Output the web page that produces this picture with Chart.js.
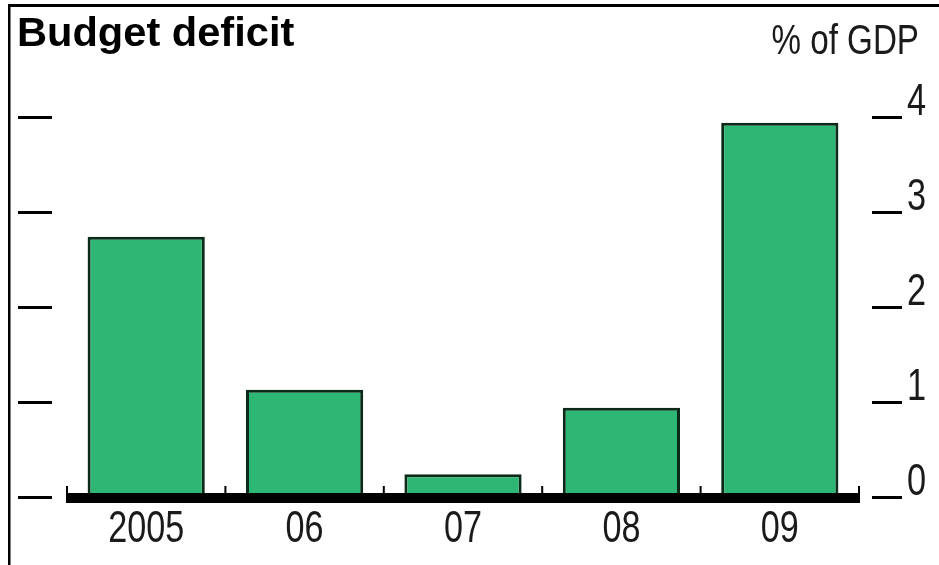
<!DOCTYPE html>
<html>
<head>
<meta charset="utf-8">
<script src="https://cdn.jsdelivr.net/npm/chart.js@4.4.0/dist/chart.umd.min.js"></script>
<style>
  html, body { margin: 0; padding: 0; background: #fff; }
  #wrap { width: 939px; height: 565px; position: relative; }
</style>
</head>
<body>
<div id="wrap"><canvas id="myChart" width="939" height="565"></canvas></div>
<script>
'use strict';

// data
let years = ['2005', '06', '07', '08', '09'];
let deficit = [2.74, 1.13, 0.24, 0.94, 3.94];
let yTicks = [0, 1, 2, 3, 4];

let chartTitle = 'Budget deficit';
let unitLabel = '% of GDP';
let baseFont = '"Liberation Sans", Arial, sans-serif';

// draw text squeezed sideways (the original uses a condensed face)
function narrowText(ctx, text, x, y, size, squeeze, align) {
  ctx.save();
  ctx.font = size + 'px ' + baseFont;
  ctx.textAlign = align;
  ctx.textBaseline = 'alphabetic';
  ctx.translate(x, y);
  ctx.scale(squeeze, 1);
  ctx.fillText(text, 0, 0);
  ctx.restore();
}

// extra bits: frame, title, side ticks, thick axis line, labels
let decorPlugin = {
  id: 'decor',
  afterDatasetsDraw(chart) {
    let ctx = chart.ctx;
    let area = chart.chartArea;
    let x = chart.scales.x;
    let y = chart.scales.y;
    ctx.save();

    // frame (left + top)
    ctx.fillStyle = '#000';
    ctx.fillRect(8, 4, 931, 3);
    ctx.fillRect(8, 4, 2.5, 561);

    // title
    ctx.save();
    ctx.font = 'bold 40px ' + baseFont;
    ctx.textAlign = 'left';
    ctx.textBaseline = 'alphabetic';
    ctx.translate(17, 46);
    ctx.scale(1.04, 1);
    ctx.fillText(chartTitle, 0, 0);
    ctx.restore();

    ctx.fillStyle = '#1a1a1a';
    narrowText(ctx, unitLabel, 919, 54, 42, 0.79, 'right');

    // y ticks both sides, labels on the right
    yTicks.forEach(function (v) {
      let py = Math.round(y.getPixelForValue(v));
      ctx.fillStyle = '#000';
      ctx.fillRect(18, py - 1, 34, 3);
      ctx.fillRect(872, py - 1, 30, 3);
      ctx.fillStyle = '#1a1a1a';
      narrowText(ctx, String(v), 907, py - 2, 44, 0.78, 'left');
    });

    // thick baseline
    let base = y.getPixelForValue(0);
    ctx.fillStyle = '#000';
    ctx.fillRect(area.left - 1, base - 4, area.right - area.left + 2, 10);

    // small category separators
    let n = years.length;
    let step = (area.right - area.left) / n;
    for (let i = 0; i <= n; i++) {
      let px = area.left + step * i;
      ctx.fillRect(px - 1, base - 11, 2, 8);
    }

    // category labels
    ctx.fillStyle = '#1a1a1a';
    years.forEach(function (lab, i) {
      narrowText(ctx, lab, x.getPixelForValue(i), 542, 45, 0.76, 'center');
    });
    ctx.restore();
  }
};

let chartObject = {
  type: 'bar',
  data: {
    labels: years,
    datasets: [{
      label: chartTitle,
      data: deficit,
      backgroundColor: '#2eb674',
      borderColor: '#0b2a19',
      borderWidth: 3,
      borderSkipped: 'bottom',
      barPercentage: 0.74,
      categoryPercentage: 1
    }]
  },
  options: {
    responsive: false,
    animation: false,
    layout: {
      padding: { left: 67, right: 80, top: 117, bottom: 68 }
    },
    plugins: {
      legend: { display: false },
      tooltip: { enabled: false }
    },
    scales: {
      x: { display: false },
      y: {
        display: false,
        min: 0,
        max: 4
      }
    }
  },
  plugins: [decorPlugin]
};

let ctx = document.getElementById('myChart').getContext('2d');
let myChart = new Chart(ctx, chartObject);
</script>
</body>
</html>
